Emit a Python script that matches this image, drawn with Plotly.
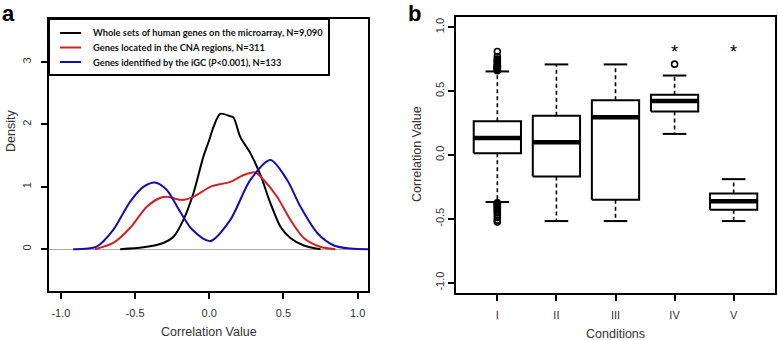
import plotly.graph_objects as go

# ---------------- Panel a: density curves ----------------
black_x = [-0.60, -0.444, -0.309, -0.241, -0.174, -0.106, -0.04, 0.0, 0.029, 0.074, 0.142, 0.164, 0.209, 0.277, 0.345, 0.412, 0.48, 0.547, 0.637, 0.75]
black_y = [0.0, 0.03, 0.10, 0.20, 0.47, 0.90, 1.48, 1.75, 1.96, 2.17, 2.13, 2.11, 1.80, 1.54, 1.19, 0.74, 0.36, 0.18, 0.06, 0.0]

red_x = [-0.77, -0.647, -0.534, -0.421, -0.333, -0.286, -0.186, -0.106, 0.007, 0.142, 0.232, 0.311, 0.367, 0.457, 0.547, 0.637, 0.748, 0.85]
red_y = [0.0, 0.10, 0.34, 0.68, 0.82, 0.84, 0.79, 0.84, 1.0, 1.08, 1.19, 1.23, 1.11, 0.84, 0.47, 0.18, 0.04, 0.0]

blue_x = [-0.917, -0.76, -0.647, -0.534, -0.444, -0.365, -0.286, -0.196, -0.117, 0.007, 0.142, 0.277, 0.412, 0.525, 0.615, 0.728, 0.84, 0.953, 1.07]
blue_y = [0.0, 0.04, 0.31, 0.76, 1.0, 1.07, 0.95, 0.60, 0.32, 0.13, 0.47, 1.11, 1.43, 1.11, 0.68, 0.26, 0.06, 0.01, 0.0]

series_names = [
    "Whole sets of human genes on the microarray, N=9,090",
    "Genes located in the CNA regions, N=311",
    "Genes identified by the iGC (<i>P</i>&lt;0.001), N=133",
]
series_colors = ["#000000", "#d62020", "#1010b0"]

density_xticks = [-1.0, -0.5, 0.0, 0.5, 1.0]
density_yticks = [0, 1, 2, 3]

# ---------------- Panel b: boxplots ----------------
conditions = ["I", "II", "III", "IV", "V"]
positions = [1, 2, 3, 4, 5]
q1 = [0.013, -0.168, -0.350, 0.341, -0.428]
median = [0.134, 0.100, 0.296, 0.422, -0.362]
q3 = [0.265, 0.307, 0.428, 0.472, -0.302]
lower_whisker = [-0.368, -0.517, -0.517, 0.165, -0.517]
upper_whisker = [0.654, 0.709, 0.709, 0.622, -0.189]

outlier_x = [1] * 30 + [4]
outlier_y = [0.66, 0.665, 0.67, 0.675, 0.68, 0.685, 0.69, 0.695, 0.70, 0.71, 0.72, 0.73, 0.74, 0.75, 0.77, 0.81,
             -0.375, -0.38, -0.385, -0.39, -0.40, -0.41, -0.42, -0.43, -0.44, -0.45, -0.47, -0.49, -0.51, -0.525,
             0.711]

signif_x = [4, 5]
signif_y = [0.835, 0.835]

box_yticks = [-1.0, -0.5, 0.0, 0.5, 1.0]

W, H = 778, 340
FONT = "Liberation Sans, Arial, sans-serif"
LEG_FONT = "Lato, Liberation Sans, sans-serif"

fig = go.Figure()

for xs, ys, nm, col in zip([black_x, red_x, blue_x], [black_y, red_y, blue_y], series_names, series_colors):
    fig.add_trace(go.Scatter(x=xs, y=ys, mode="lines", name=nm, showlegend=False,
                             line=dict(color=col, width=2, shape="spline", smoothing=0.8),
                             xaxis="x", yaxis="y", hoverinfo="skip"))

half_w = 0.4
cap_w = 0.2
box_x, box_y, med_x, med_y, wh_x, wh_y, cap_x, cap_y = [], [], [], [], [], [], [], []
for p, a, m, b, lo, hi in zip(positions, q1, median, q3, lower_whisker, upper_whisker):
    box_x += [p - half_w, p + half_w, p + half_w, p - half_w, p - half_w, None]
    box_y += [a, a, b, b, a, None]
    med_x += [p - half_w, p + half_w, None]
    med_y += [m, m, None]
    wh_x += [p, p, None, p, p, None]
    wh_y += [b, hi, None, a, lo, None]
    cap_x += [p - cap_w, p + cap_w, None, p - cap_w, p + cap_w, None]
    cap_y += [hi, hi, None, lo, lo, None]

common = dict(xaxis="x2", yaxis="y2", showlegend=False, hoverinfo="skip")
fig.add_trace(go.Scatter(x=wh_x, y=wh_y, mode="lines", line=dict(color="black", width=1.6, dash="4px,3px"), **common))
fig.add_trace(go.Scatter(x=cap_x, y=cap_y, mode="lines", line=dict(color="black", width=2), **common))
fig.add_trace(go.Scatter(x=box_x, y=box_y, mode="lines", line=dict(color="black", width=2), **common))
fig.add_trace(go.Scatter(x=med_x, y=med_y, mode="lines", line=dict(color="black", width=4.5), **common))
fig.add_trace(go.Scatter(x=outlier_x, y=outlier_y, mode="markers",
                         marker=dict(symbol="circle-open", size=6, color="black", line=dict(width=1.6)), **common))

axis_common = dict(showgrid=False, showline=True, linecolor="black", linewidth=2, mirror=True,
                   ticks="outside", ticklen=6, tickwidth=1.5, tickcolor="black",
                   tickfont=dict(family=FONT, size=11, color="#333"), automargin=False,
                   zeroline=False)
title_font = dict(family=FONT, size=12.5, color="#333")


def px_x(v):
    return v / W


def px_y(v):
    return 1 - v / H


# manual legend (box, line samples, labels) in the top-left corner of panel a
leg_left, leg_right, leg_top, leg_bottom = 49, 329, 19, 75
leg_rows = [33, 47.5, 62]
shapes = [dict(type="rect", xref="paper", yref="paper", x0=px_x(leg_left), x1=px_x(leg_right),
               y0=px_y(leg_bottom), y1=px_y(leg_top), line=dict(color="black", width=2),
               fillcolor="white", layer="above")]
annotations = []
for ry, nm, col in zip(leg_rows, series_names, series_colors):
    shapes.append(dict(type="line", xref="paper", yref="paper", x0=px_x(60), x1=px_x(81),
                       y0=px_y(ry), y1=px_y(ry), line=dict(color=col, width=2), layer="above"))
    annotations.append(dict(text="<b>" + nm + "</b>", x=px_x(91), y=px_y(ry), xref="paper", yref="paper",
                            xanchor="left", yanchor="middle", showarrow=False,
                            font=dict(family=LEG_FONT, size=9.3, color="#111")))

# significance asterisks (panel b)
for sx, sy in zip(signif_x, signif_y):
    annotations.append(dict(text="*", x=sx, y=sy, xref="x2", yref="y2", showarrow=False,
                            xanchor="center", yanchor="middle", yshift=-4,
                            font=dict(family=FONT, size=18, color="black")))

# axis titles
annotations += [
    dict(text="Correlation Value", x=px_x(208.5), y=px_y(332), xref="paper", yref="paper",
         xanchor="center", yanchor="middle", showarrow=False, font=title_font),
    dict(text="Density", x=px_x(11), y=px_y(131), xref="paper", yref="paper", textangle=-90,
         xanchor="center", yanchor="middle", showarrow=False, font=title_font),
    dict(text="Conditions", x=px_x(615.5), y=px_y(334), xref="paper", yref="paper",
         xanchor="center", yanchor="middle", showarrow=False, font=title_font),
    dict(text="Correlation Value", x=px_x(417), y=px_y(154), xref="paper", yref="paper", textangle=-90,
         xanchor="center", yanchor="middle", showarrow=False, font=title_font),
]

annotations += [
    dict(text="<b>a</b>", x=0, y=1, xref="paper", yref="paper", xanchor="left", yanchor="top",
         showarrow=False, font=dict(family=FONT, size=22, color="black"), yshift=1),
    dict(text="<b>b</b>", x=406 / W, y=1, xref="paper", yref="paper", xanchor="left", yanchor="top",
         showarrow=False, font=dict(family=FONT, size=22, color="black"), yshift=1),
]

fig.update_layout(
    width=W, height=H,
    margin=dict(l=0, r=0, t=0, b=0),
    paper_bgcolor="white", plot_bgcolor="white",
    font=dict(family=FONT, color="#333"),
    showlegend=False,
    xaxis=dict(domain=[49 / W, 368 / W], range=[-1.08, 1.07], tickvals=density_xticks,
               ticktext=["-1.0", "-0.5", "0.0", "0.5", "1.0"], anchor="y", ticklabelstandoff=5,
               **axis_common),
    yaxis=dict(domain=[1 - 291 / H, 1 - 19 / H], range=[-0.67, 3.69], tickvals=density_yticks,
               tickangle=-90, anchor="x", ticklabelstandoff=6,
               **{**axis_common, "zeroline": True}, zerolinecolor="#aaaaaa", zerolinewidth=1.2),
    xaxis2=dict(domain=[456 / W, 775 / W], range=[0.3, 5.7], tickvals=positions, ticktext=conditions,
                anchor="y2", ticklabelstandoff=5, **axis_common),
    yaxis2=dict(domain=[1 - 293 / H, 1 - 17 / H], range=[-1.08, 1.08], tickvals=box_yticks,
                ticktext=["-1.0", "-0.5", "0.0", "0.5", "1.0"], tickangle=-90, anchor="x2",
                **axis_common),
    shapes=shapes,
    annotations=annotations,
)

fig.write_html("out.html", config={"displayModeBar": False},
               post_script="document.body.style.margin='0';document.body.style.overflow='hidden';")
